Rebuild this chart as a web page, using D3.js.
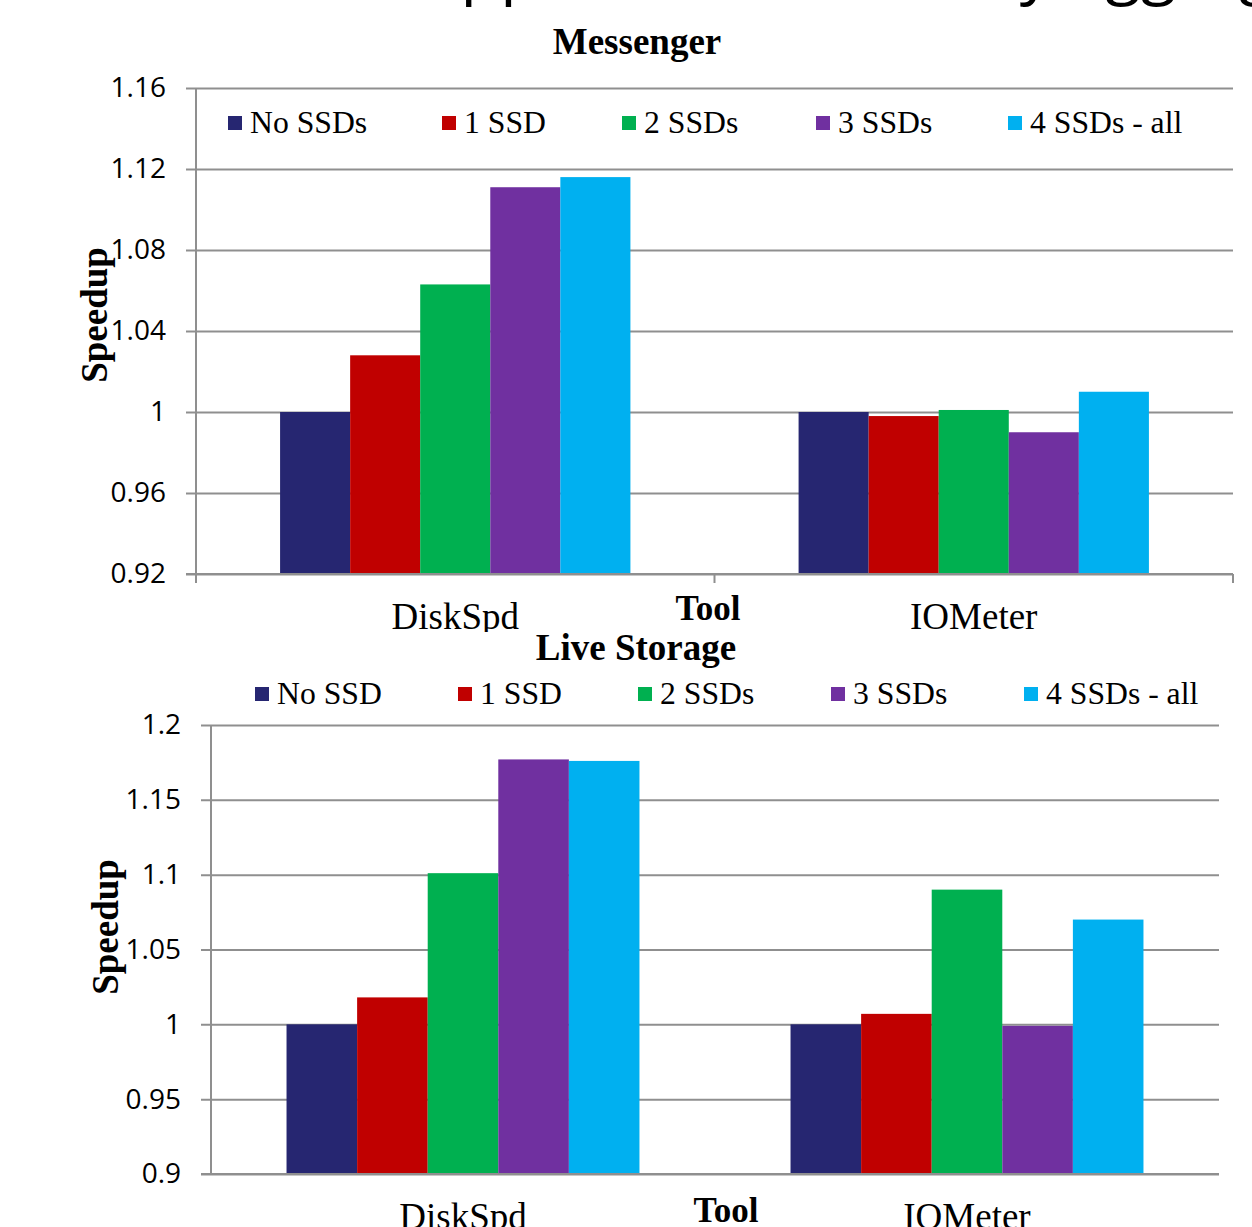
<!DOCTYPE html>
<html>
<head>
<meta charset="utf-8">
<script src="https://cdn.jsdelivr.net/npm/d3@7"></script>
<style>
  html, body { margin: 0; padding: 0; background: #fff; overflow: hidden; }
  svg { display: block; }
</style>
</head>
<body>
<script>
// ---------- DATA ----------
const categories = ["DiskSpd", "IOMeter"];
const messengerSeries = ["No SSDs", "1 SSD", "2 SSDs", "3 SSDs", "4 SSDs - all"];
const liveSeries = ["No SSD", "1 SSD", "2 SSDs", "3 SSDs", "4 SSDs - all"];
const messengerDiskSpd = [1.000, 1.028, 1.063, 1.111, 1.116];
const messengerIOMeter = [1.000, 0.998, 1.001, 0.990, 1.010];
const liveDiskSpd = [1.000, 1.018, 1.101, 1.177, 1.176];
const liveIOMeter = [1.000, 1.007, 1.090, 0.999, 1.070];
const messengerTicks = [0.92, 0.96, 1, 1.04, 1.08, 1.12, 1.16];
const liveTicks = [0.9, 0.95, 1, 1.05, 1.1, 1.15, 1.2];
const seriesColors = ["#262671", "#C00000", "#00B050", "#7030A0", "#00B0F0"];

// ---------- SETUP ----------
const W = 1252, H = 1227;
const SERIF = "'Liberation Serif', 'Times New Roman', serif";
const SANS = "'Open Sans', 'Noto Sans', sans-serif";
const GRID = "#8f8f8f";

const svg = d3.select("body").append("svg").attr("width", W).attr("height", H);

// cropped slide title above the charts (only descenders visible)
const titleG = svg.append("g").attr("font-family", SANS).attr("font-size", 65).attr("fill", "#000");
titleG.append("text").attr("x", 35).attr("y", -9).attr("text-anchor", "end").text("Results,");
titleG.append("text").attr("x", 540).attr("y", -9).attr("text-anchor", "end").text("Whole-app");
titleG.append("text").attr("x", 980).attr("y", -9).text("by aggregating");

function drawChart(cfg) {
  const g = svg.append("g");
  if (cfg.clip) {
    const id = "clip-" + cfg.id;
    svg.append("clipPath").attr("id", id).append("rect")
      .attr("x", cfg.clip[0]).attr("y", cfg.clip[1]).attr("width", cfg.clip[2]).attr("height", cfg.clip[3]);
    g.attr("clip-path", `url(#${id})`);
  }
  const y = d3.scaleLinear().domain(cfg.domain).range([cfg.yBottom, cfg.yTop]);
  const x0 = d3.scaleBand().domain(categories).range([cfg.left, cfg.right]).padding(0);
  const x1 = d3.scaleBand().domain(cfg.series).range([0, x0.bandwidth()])
    .paddingInner(0).paddingOuter(cfg.outerPad);

  // gridlines + tick labels
  const axisG = g.append("g").attr("transform", `translate(${cfg.left - 10},0)`)
    .call(d3.axisLeft(y).tickValues(cfg.ticks).tickFormat(d => String(d))
      .tickSize(-(cfg.right - cfg.left + 10)).tickPadding(20));
  axisG.select(".domain").remove();
  axisG.selectAll(".tick line").attr("stroke", GRID).attr("stroke-width", 2)
    .attr("x1", 0).attr("x2", cfg.right - cfg.left + 10);
  axisG.selectAll(".tick text").attr("font-family", SANS).attr("font-size", 28).attr("fill", "#000");

  // y axis line
  g.append("line").attr("x1", cfg.left).attr("x2", cfg.left)
    .attr("y1", cfg.yTop).attr("y2", cfg.yBottom + (cfg.xTicks ? 9 : 0))
    .attr("stroke", GRID).attr("stroke-width", 2);

  // category ticks
  if (cfg.xTicks) {
    const bounds = categories.map(c => x0(c)).concat([x0.range()[1]]);
    g.selectAll(".xtick").data(bounds).enter().append("line")
      .attr("x1", d => d).attr("x2", d => d)
      .attr("y1", cfg.yBottom).attr("y2", cfg.yBottom + 9)
      .attr("stroke", GRID).attr("stroke-width", 2);
  }

  // bars
  const rows = categories.map((c, i) => ({ cat: c, vals: cfg.values[i] }));
  const cg = g.selectAll(".cat").data(rows).enter().append("g")
    .attr("transform", d => `translate(${x0(d.cat)},0)`);
  cg.selectAll("rect").data(d => d.vals.map((v, j) => ({ s: cfg.series[j], v, j })))
    .enter().append("rect")
    .attr("x", d => x1(d.s))
    .attr("width", x1.bandwidth())
    .attr("y", d => y(d.v))
    .attr("height", d => y(cfg.domain[0]) - y(d.v))
    .attr("fill", d => seriesColors[d.j]);

  // redraw the baseline over bars
  g.append("line").attr("x1", cfg.left - 10).attr("x2", cfg.right)
    .attr("y1", y(cfg.domain[0])).attr("y2", y(cfg.domain[0]))
    .attr("stroke", GRID).attr("stroke-width", 2);

  // category labels
  g.selectAll(".catlabel").data(categories).enter().append("text")
    .attr("x", d => x0(d) + x0.bandwidth() / 2).attr("y", cfg.catY)
    .attr("text-anchor", "middle").attr("font-family", SERIF).attr("font-size", 37)
    .attr("fill", "#000").text(d => d);

  // axis titles
  g.append("text").attr("x", cfg.toolX).attr("y", cfg.toolY).attr("text-anchor", "middle")
    .attr("font-family", SERIF).attr("font-weight", "bold").attr("font-size", 35).text("Tool");
  g.append("text").attr("transform", `translate(${cfg.speedX},${cfg.speedY}) rotate(-90)`)
    .attr("text-anchor", "middle").attr("font-family", SERIF).attr("font-weight", "bold")
    .attr("font-size", 37).text("Speedup");

  // chart title
  g.append("text").attr("x", cfg.titleX).attr("y", cfg.titleY).attr("text-anchor", "middle")
    .attr("font-family", SERIF).attr("font-weight", "bold").attr("font-size", 37).text(cfg.title);

  // legend
  const lg = g.selectAll(".leg").data(cfg.series).enter().append("g")
    .attr("transform", (d, i) => `translate(${cfg.legendX[i]},${cfg.legendY})`);
  lg.append("rect").attr("x", 0).attr("y", -7).attr("width", 14).attr("height", 14)
    .attr("fill", (d, i) => seriesColors[i]);
  lg.append("text").attr("x", 22).attr("y", 10).attr("font-family", SERIF).attr("font-size", 31.7)
    .attr("fill", "#000").text(d => d);
}

drawChart({
  id: "messenger", title: "Messenger", titleX: 637, titleY: 54,
  series: messengerSeries, values: [messengerDiskSpd, messengerIOMeter],
  domain: [0.92, 1.16], ticks: messengerTicks,
  left: 196, right: 1233, yTop: 88, yBottom: 574, outerPad: 1.2, xTicks: true,
  legendX: [228, 442, 622, 816, 1008], legendY: 123,
  catY: 629, toolX: 708, toolY: 620, speedX: 107, speedY: 315,
  clip: [0, 0, W, 632]
});

drawChart({
  id: "live", title: "Live Storage", titleX: 636, titleY: 660,
  series: liveSeries, values: [liveDiskSpd, liveIOMeter],
  domain: [0.9, 1.2], ticks: liveTicks,
  left: 211, right: 1219, yTop: 725, yBottom: 1174, outerPad: 1.07, xTicks: false,
  legendX: [255, 458, 638, 831, 1024], legendY: 694,
  catY: 1229, toolX: 726, toolY: 1222, speedX: 118, speedY: 927,
  clip: null
});
</script>
</body>
</html>
